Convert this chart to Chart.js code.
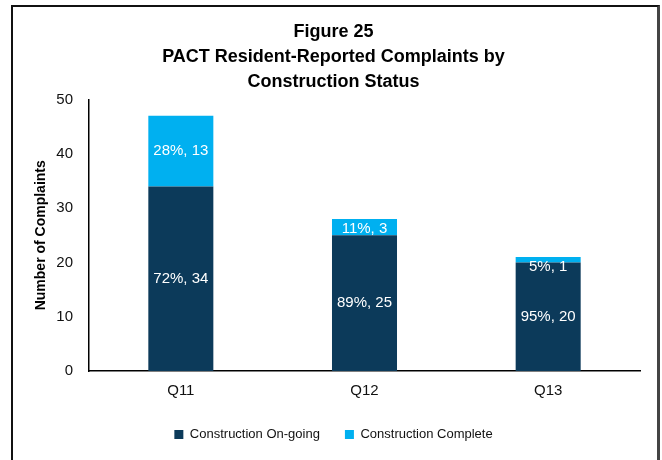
<!DOCTYPE html>
<html>
<head>
<meta charset="utf-8">
<script src="https://cdn.jsdelivr.net/npm/chart.js@4"></script>
<style>
  body { margin: 0; background: #fff; }
  #wrap { position: relative; width: 662px; height: 460px; }
  #frame { position: absolute; left: 11px; top: 5px; width: 644px; height: 480px;
           border-left: 2px solid #111; border-top: 2px solid #111; border-right: 3px solid #444;
           pointer-events: none; }
</style>
</head>
<body>
<div id="wrap">
  <canvas id="chart" width="662" height="460"></canvas>
  <div id="frame"></div>
</div>
<script>
const quarters = ['Q11', 'Q12', 'Q13'];
const ongoing = [34, 25, 20];
const complete = [13, 3, 1];
const yTicks = [0, 10, 20, 30, 40, 50];

const FONT = "'Liberation Sans', Arial, sans-serif";

// white "pct%, n" labels in the middle of each segment
const segLabels = {
    id: 'segLabels',
    afterDatasetsDraw(chart) {
        const ctx = chart.ctx;
        ctx.save();
        ctx.font = '15px ' + FONT;
        ctx.fillStyle = '#ffffff';
        ctx.textAlign = 'center';
        ctx.textBaseline = 'middle';
        chart.data.datasets.forEach((ds, di) => {
            chart.getDatasetMeta(di).data.forEach((bar, i) => {
                const total = ongoing[i] + complete[i];
                const v = ds.data[i];
                const pct = Math.round(v / total * 100);
                let y = (bar.y + bar.base) / 2;
                // thin segments: keep the text from sticking out above the bar
                y = Math.max(y, bar.y + 10);
                ctx.fillText(pct + '%, ' + v, bar.x, y);
            });
        });
        ctx.restore();
    }
};

new Chart(document.getElementById('chart'), {
    type: 'bar',
    data: {
        labels: quarters,
        datasets: [
            { label: 'Construction On-going', data: ongoing, backgroundColor: '#0c3a5a' },
            { label: 'Construction Complete', data: complete, backgroundColor: '#00b0f0' }
        ]
    },
    options: {
        responsive: false,
        animation: false,
        layout: { padding: { left: 27, right: 22, top: 0, bottom: 9 } },
        datasets: { bar: { categoryPercentage: 1, barPercentage: 0.354 } },
        scales: {
            x: {
                stacked: true,
                grid: { display: false },
                border: { color: '#000', width: 1.5 },
                ticks: { color: '#111', font: { family: FONT, size: 15 }, padding: 3 }
            },
            y: {
                stacked: true,
                min: 0, max: 50,
                afterBuildTicks(scale) { scale.ticks = yTicks.map(v => ({ value: v })); },
                afterFit(scale) { scale.width = 62; },
                grid: { display: false },
                border: { color: '#000', width: 1.5 },
                ticks: { color: '#111', font: { family: FONT, size: 15 }, padding: 8 },
                title: { display: true, text: 'Number of Complaints', color: '#000',
                         font: { family: FONT, size: 14, weight: 'bold' }, padding: 6 }
            }
        },
        plugins: {
            title: {
                display: true,
                text: ['Figure 25', 'PACT Resident-Reported Complaints by', 'Construction Status'],
                color: '#000',
                font: { family: FONT, size: 18, weight: 'bold', lineHeight: 1.38 },
                padding: { top: 20, bottom: 5 }
            },
            legend: {
                position: 'bottom',
                labels: { color: '#111', font: { family: FONT, size: 13 },
                          boxWidth: 9, boxHeight: 9, padding: 25 }
            },
            tooltip: { enabled: false }
        }
    },
    plugins: [segLabels]
});
</script>
</body>
</html>
